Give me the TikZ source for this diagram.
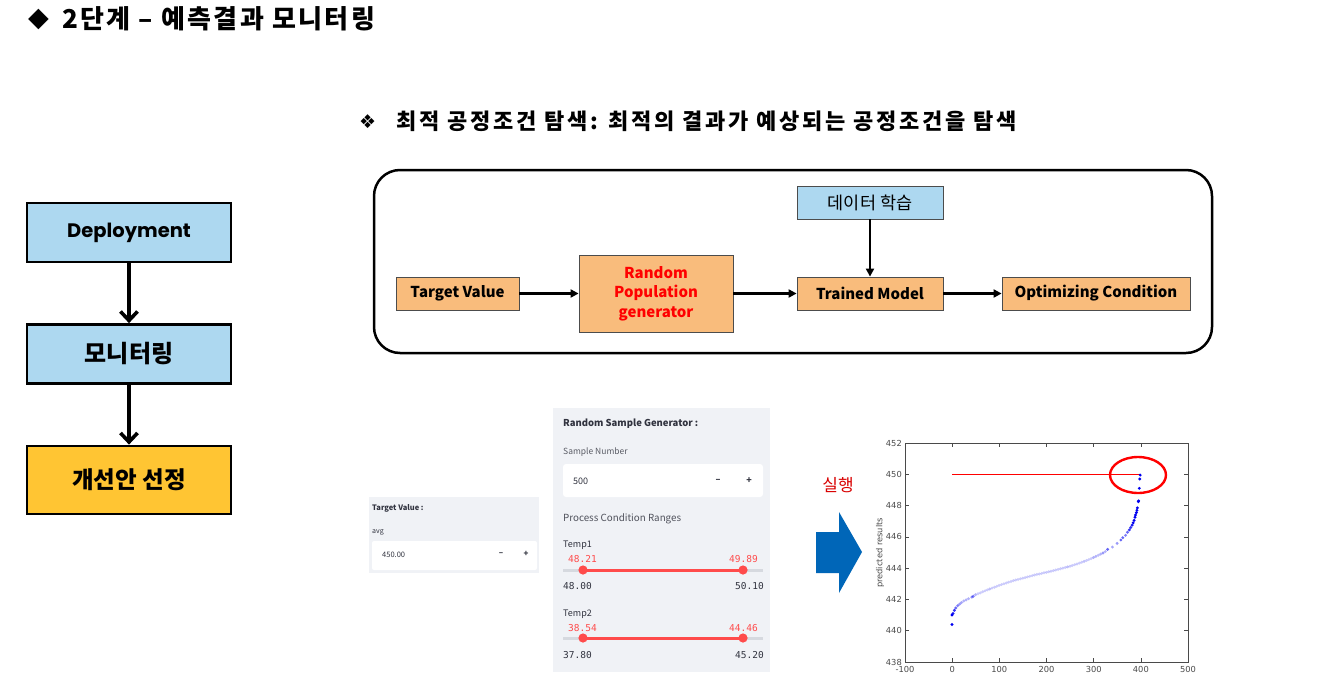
\documentclass[tikz,border=0pt]{standalone}
\usepackage{fontspec}
\setmainfont{Noto Sans CJK KR}
\newfontfamily\geofont{Poppins}
\newfontfamily\symfont{DejaVu Sans}
\newfontfamily\codefont{DejaVu Sans Mono}
\usetikzlibrary{arrows.meta}

\definecolor{lblue}{HTML}{ADD8F0}
\definecolor{gold}{HTML}{FFC533}
\definecolor{orng}{HTML}{F9BC7C}
\definecolor{panel}{HTML}{F0F2F6}
\definecolor{stred}{HTML}{FF4B4B}
\definecolor{sttext}{HTML}{31333F}
\definecolor{sttrack}{HTML}{D6D9DF}
\definecolor{runblue}{HTML}{0066B8}
\definecolor{axisgray}{HTML}{4A4A4A}
\definecolor{dotblue}{HTML}{0000F0}

\begin{document}
\begin{tikzpicture}[x=1pt,y=-1pt,
  leftbox/.style={draw=black, line width=2.8pt, minimum width=204pt, minimum height=59pt, inner sep=0pt},
  leftarrow/.style={line width=3.6pt, -{Straight Barb[length=9pt,width=17pt]}},
  flowbox/.style={draw=black!70, line width=0.8pt, fill=orng, inner sep=0pt, minimum height=33pt,
    font=\bfseries\fontsize{15}{20}\selectfont},
  flowarrow/.style={line width=2.2pt, -{Triangle[length=8pt,width=8pt]}},
  txt/.style={inner sep=0pt, anchor=base west},
  txtr/.style={inner sep=0pt, anchor=base east},
  ticklab/.style={inner sep=0pt, text=axisgray, font=\symfont\fontsize{8.3}{9}\selectfont},
]
\useasboundingbox[fill=white] (0,0) rectangle (1341,699);

% headings
\node[inner sep=0pt, anchor=west] (hmark) at (28,19) {\symfont\fontsize{27}{30}\selectfont ◆};
\node[inner sep=0pt, anchor=west] (htitle) at (62,19)
  {\bfseries\fontsize{26}{30}\selectfont\addfontfeature{LetterSpace=9} 2단계 – 예측결과 모니터링};
\node[inner sep=0pt, anchor=west] (smark) at (359,122) {\symfont\fontsize{19}{22}\selectfont ❖};
\node[inner sep=0pt, anchor=west] (stitle) at (396,121)
  {\bfseries\fontsize{22}{26}\selectfont\addfontfeature{LetterSpace=12.5} 최적 공정조건 탐색: 최적의 결과가 예상되는 공정조건을 탐색};

% left process column
\node[leftbox, fill=lblue] (dep) at (129,232.5) {\geofont\bfseries\fontsize{19.5}{22}\selectfont Deployment};
\node[leftbox, fill=lblue] (mon) at (129,354) {\bfseries\fontsize{24}{26}\selectfont 모니터링};
\node[leftbox, fill=gold, minimum height=68pt] (sel) at (129,480) {\bfseries\fontsize{23.5}{26}\selectfont 개선안 선정};
\draw[leftarrow] (dep) -- (mon);
\draw[leftarrow] (mon) -- (sel);

% optimisation flow
\node[draw=black, line width=2.5pt, rounded corners=26pt, minimum width=838pt, minimum height=183pt, inner sep=0pt] (frame) at (793,261.5) {};
\node[flowbox, minimum width=123pt] (tv) at (457.5,293.5) {Target Value};
\node[flowbox, minimum width=154pt, minimum height=77pt, align=center, text=red,
  font=\bfseries\fontsize{15}{19.5}\selectfont] (rpg) at (656,293.5) {Random\\Population\\generator};
\node[flowbox, minimum width=146pt] (tm) at (870,293.5) {Trained Model};
\node[flowbox, minimum width=188pt] (oc) at (1096,293.5) {Optimizing Condition};
\node[flowbox, fill=lblue, minimum width=146pt, font=\fontsize{17.5}{20}\selectfont] (dl) at (870,202.5) {데이터 학습};
\draw[flowarrow] (tv) -- (rpg);
\draw[flowarrow] (rpg) -- (tm);
\draw[flowarrow] (tm) -- (oc);
\draw[flowarrow] (dl) -- (tm);

% target value panel
\fill[panel] (369,497) rectangle (539,573);
\fill[white, rounded corners=2pt] (372,541) rectangle (537,570);
\node[txt, text=sttext, font=\bfseries\fontsize{7.5}{9}\selectfont] (tvp) at (372,510) {Target Value :};
\node[txt, text=sttext, font=\fontsize{7}{9}\selectfont] (tvavg) at (372,533.5) {avg};
\node[txt, text=sttext, font=\fontsize{7.5}{9}\selectfont] (tvnum) at (382,557) {450.00};
\node[inner sep=0pt, text=sttext, font=\bfseries\fontsize{8}{9}\selectfont] (tvminus) at (501,554) {–};
\node[inner sep=0pt, text=sttext, font=\bfseries\fontsize{8}{9}\selectfont] (tvplus) at (526,554) {+};

% random sample generator panel
\fill[panel] (553,408) rectangle (770,672);
\fill[white, rounded corners=3pt] (563,464) rectangle (763,497);
\node[txt, text=sttext, font=\bfseries\fontsize{9.5}{11}\selectfont] (rsg) at (563,426.5) {Random Sample Generator :};
\node[txt, text=sttext!80, font=\fontsize{8.5}{10}\selectfont] (sn) at (563,454) {Sample Number};
\node[txt, text=sttext, font=\fontsize{9}{10}\selectfont] (snv) at (573,484.5) {500};
\node[inner sep=0pt, text=sttext, font=\bfseries\fontsize{9}{10}\selectfont] (snminus) at (718,481) {–};
\node[inner sep=0pt, text=sttext, font=\bfseries\fontsize{9}{10}\selectfont] (snplus) at (749,481) {+};
\node[txt, text=sttext!85, font=\fontsize{9.8}{12}\selectfont] (pcr) at (563,521) {Process Condition Ranges};

\node[txt, text=sttext, font=\fontsize{9}{10}\selectfont] (t1) at (563,547.5) {Temp1};
\node[txt, text=stred, font=\codefont\fontsize{9.5}{10}\selectfont] (t1lo) at (568,562.5) {48.21};
\node[txtr, text=stred, font=\codefont\fontsize{9.5}{10}\selectfont] (t1hi) at (758,562.5) {49.89};
\draw[sttrack, line width=3pt] (563,570) -- (763,570);
\draw[stred, line width=3pt] (583,570) -- (743,570);
\fill[stred] (583,570) circle (4.6pt) (743,570) circle (4.6pt);
\node[txt, text=sttext, font=\codefont\fontsize{9.5}{10}\selectfont] (t1min) at (563,589.5) {48.00};
\node[txtr, text=sttext, font=\codefont\fontsize{9.5}{10}\selectfont] (t1max) at (764,589.5) {50.10};

\node[txt, text=sttext, font=\fontsize{9}{10}\selectfont] (t2) at (563,616.5) {Temp2};
\node[txt, text=stred, font=\codefont\fontsize{9.5}{10}\selectfont] (t2lo) at (568,631.5) {38.54};
\node[txtr, text=stred, font=\codefont\fontsize{9.5}{10}\selectfont] (t2hi) at (758,631.5) {44.46};
\draw[sttrack, line width=3pt] (563,638) -- (763,638);
\draw[stred, line width=3pt] (583,638) -- (743,638);
\fill[stred] (583,638) circle (4.6pt) (743,638) circle (4.6pt);
\node[txt, text=sttext, font=\codefont\fontsize{9.5}{10}\selectfont] (t2min) at (563,658.5) {37.80};
\node[txtr, text=sttext, font=\codefont\fontsize{9.5}{10}\selectfont] (t2max) at (764,658.5) {45.20};

% run arrow
\node[inner sep=0pt, text=red!85!black, font=\fontsize{17}{20}\selectfont] (run) at (838,485) {실행};
\fill[runblue] (816,532) -- (839,532) -- (839,512) -- (862,552) -- (839,593) -- (839,573) -- (816,573) -- cycle;

% result chart
\draw[axisgray, line width=1pt] (905,443) rectangle (1188,662);
\foreach \v [count=\i from 0] in {452,450,448,446,444,442,440,438} {
  \pgfmathsetmacro\yy{443+\i*31.286}
  \node[ticklab, anchor=east] (yl\i) at (902,\yy) {\v};
  \draw[axisgray, line width=0.6pt] (905,\yy) -- (909,\yy) (1188,\yy) -- (1184,\yy);
}
\foreach \v [count=\i from 0] in {-100,0,100,200,300,400,500} {
  \pgfmathsetmacro\xx{905+\i*47.17}
  \node[ticklab] (xl\i) at (\xx,669) {\v};
  \draw[axisgray, line width=0.6pt] (\xx,662) -- (\xx,658) (\xx,443) -- (\xx,447);
}
\node[ticklab, rotate=90] (ylab) at (880,553) {predicted results};

\begin{scope}[shift={(952,662)}, x=0.4717pt, y=15.643pt]
  \draw[red, line width=0.9pt] (0,12) -- (400,12);
  \foreach \px/\py/\op in {
    0/440.4/1, 0/441.0/1, 2/441.1/0.9, 5/441.3/0.8, 8/441.45/0.6, 12/441.6/0.5, 16/441.7/0.4,
    20/441.8/0.35, 25/441.9/0.3, 30/441.97/0.3, 35/442.05/0.3, 42/442.15/0.45, 45/442.2/0.5,
    50/442.3/0.3, 55/442.36/0.2, 60/442.42/0.2, 65/442.49/0.2, 70/442.55/0.2, 75/442.61/0.2,
    80/442.67/0.25, 85/442.73/0.2, 90/442.78/0.2, 95/442.84/0.2, 100/442.9/0.2, 105/442.95/0.2,
    110/443.0/0.2, 115/443.05/0.2, 120/443.1/0.2, 125/443.15/0.2, 130/443.2/0.2, 135/443.24/0.2,
    140/443.28/0.2, 145/443.32/0.2, 150/443.36/0.2, 155/443.4/0.2, 160/443.44/0.2, 165/443.48/0.2,
    170/443.52/0.2, 175/443.56/0.2, 180/443.6/0.2, 185/443.63/0.2, 190/443.66/0.2, 195/443.7/0.2,
    200/443.73/0.2, 205/443.77/0.2, 210/443.8/0.2, 215/443.84/0.2, 220/443.88/0.2, 225/443.92/0.2,
    230/443.96/0.2, 235/444.0/0.2, 240/444.04/0.2, 245/444.08/0.25, 250/444.12/0.2, 255/444.17/0.2,
    260/444.22/0.2, 265/444.27/0.2, 270/444.32/0.2, 275/444.38/0.2, 280/444.43/0.25, 285/444.49/0.2,
    290/444.55/0.2, 295/444.61/0.2, 300/444.68/0.3, 305/444.75/0.3, 310/444.82/0.25, 315/444.9/0.3,
    320/444.97/0.4, 325/445.06/0.3, 330/445.2/0.6, 340/445.35/0.35, 350/445.58/0.4, 358/445.8/0.6,
    362/445.95/0.6, 368/446.1/0.5, 372/446.3/0.6, 376/446.45/0.8, 379/446.6/0.8, 382/446.75/0.9,
    384/446.9/1, 386/447.05/1, 388/447.25/1, 389/447.4/1, 391/447.55/1, 392/447.7/1, 393/447.85/1,
    395/448.25/1, 395.5/448.3/1, 397/449.1/1, 398/449.7/1, 399/449.95/1} {
    \fill[dotblue, opacity=\op] (\px,\py-438) circle (1.6pt);
  }
\end{scope}
\draw[red, line width=2.4pt] (1138,475) ellipse [x radius=28pt, y radius=18pt];
\end{tikzpicture}
\end{document}
